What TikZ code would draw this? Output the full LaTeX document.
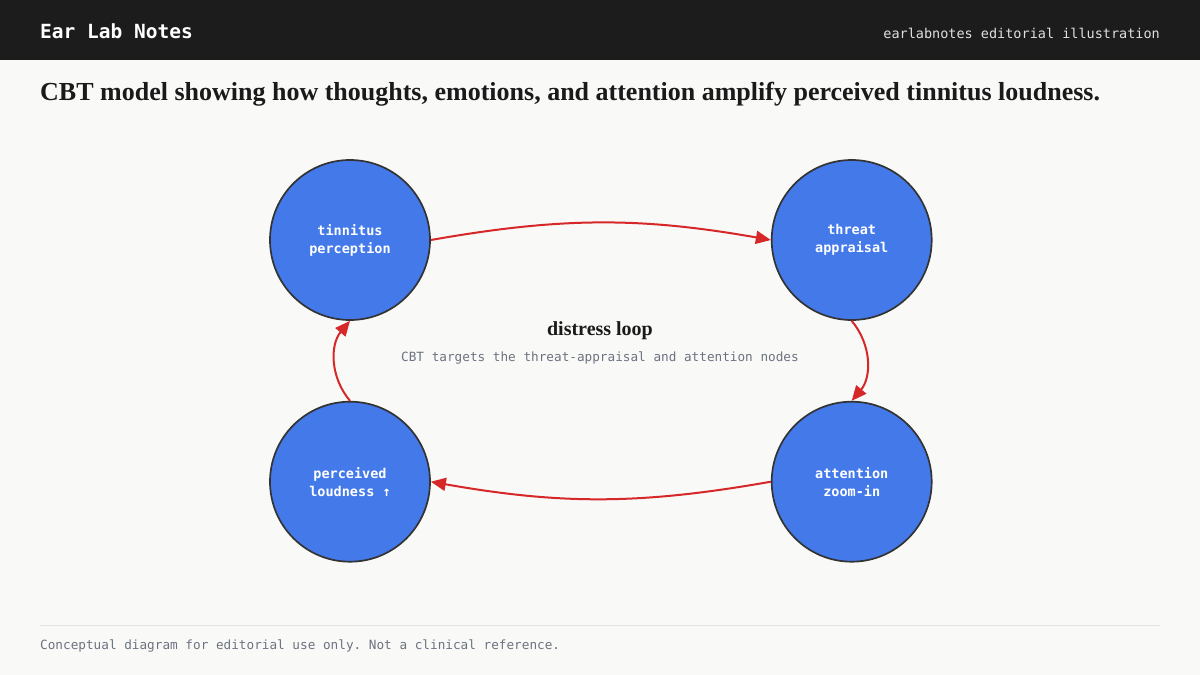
\documentclass[tikz,border=0pt]{standalone}
\usepackage{fontspec}
\setmainfont{Liberation Serif}
\setmonofont{DejaVu Sans Mono}
\usetikzlibrary{positioning,arrows.meta}
\definecolor{barcolor}{HTML}{1C1C1C}
\definecolor{pagecolor}{HTML}{F9F9F7}
\definecolor{nodeblue}{HTML}{4479EA}
\definecolor{loopred}{HTML}{D62828}
\definecolor{notegray}{HTML}{6B7280}
\definecolor{inkcolor}{HTML}{1A1A1A}
\tikzset{
  stagenode/.style={circle, draw=black!80, line width=1.7pt, fill=nodeblue, minimum size=160pt, inner sep=0pt, font=\fontsize{13.5}{18}\selectfont\ttfamily\bfseries, text=white, align=center},
  loopflow/.style={-{Triangle[length=15pt,width=13pt]}, line width=2pt, draw=loopred},
  brand/.style={font=\fontsize{19.5}{22}\selectfont\ttfamily\bfseries, text=white, anchor=west, inner sep=0pt},
  tagline/.style={font=\fontsize{13.5}{16}\selectfont\ttfamily, text=black!12, anchor=east, inner sep=0pt},
  headline/.style={font=\fontsize{26}{30}\selectfont\bfseries, text=inkcolor, anchor=west, inner sep=0pt},
  looplbl/.style={font=\fontsize{20}{24}\selectfont\bfseries, text=inkcolor, inner sep=0pt},
  note/.style={font=\fontsize{12.7}{15}\selectfont\ttfamily, text=notegray, inner sep=0pt},
}
\begin{document}
\begin{tikzpicture}[x=1pt, y=-1pt]
\useasboundingbox (0,0) rectangle (1200,675);
\fill[pagecolor] (0,0) rectangle (1200,675);
\fill[barcolor] (0,0) rectangle (1200,60);
\node[brand] (brand) at (40,31) {Ear Lab Notes};
\node[tagline] (tag) at (1160,33) {earlabnotes editorial illustration};
\node[headline] (title) at (40,94) {CBT model showing how thoughts, emotions, and attention amplify perceived tinnitus loudness.};
% the four stages of the loop
\node[stagenode] (tp) at (350,240) {tinnitus\\perception};
\node[stagenode, right=340pt of tp] (ta) {threat\\appraisal};
\node[stagenode, below=80pt of ta] (az) {attention\\zoom-in};
\node[stagenode, below=80pt of tp] (pl) {perceived\\loudness ↑};
\draw[loopflow] (tp.east) to[bend left=10] (ta.west);
\draw[loopflow] (ta.south) to[bend left=40] (az.north);
\draw[loopflow] (az.west) to[bend left=10] (pl.east);
\draw[loopflow] (pl.north) to[bend left=40] (tp.south);
\node[looplbl] (loopname) at (600,331) {distress loop};
\node[note, below=11pt of loopname] (target) {CBT targets the threat-appraisal and attention nodes};
% footer
\draw[black!10, line width=0.8pt] (40,625) -- (1160,625);
\node[note, anchor=west] (foot) at (40,646) {Conceptual diagram for editorial use only. Not a clinical reference.};
\end{tikzpicture}
\end{document}
